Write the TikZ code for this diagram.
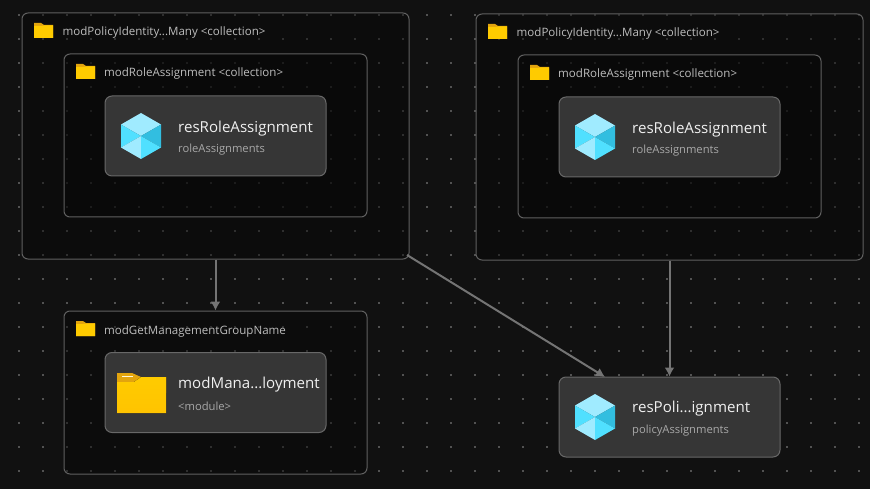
\documentclass[tikz,border=0pt]{standalone}
\usepackage{fontspec}
\setmainfont{Open Sans}
\usetikzlibrary{arrows.meta}
\definecolor{bgc}{HTML}{111111}
\definecolor{innerc}{HTML}{060606}
\definecolor{framec}{HTML}{606060}
\definecolor{cardc}{HTML}{363636}
\definecolor{cardl}{HTML}{686868}
\definecolor{textm}{HTML}{F0F0F0}
\definecolor{texts}{HTML}{A8A8A8}
\definecolor{textf}{HTML}{BDBDBD}
\definecolor{linec}{HTML}{747474}
\definecolor{dotc}{HTML}{525252}
\definecolor{foldc}{HTML}{FFCB00}
\definecolor{foldd}{HTML}{E2A40E}
\definecolor{cubea}{HTML}{A0EBFF}
\definecolor{cubeb}{HTML}{50E0FF}
\definecolor{cubec}{HTML}{32BEE0}
\tikzset{
  x=1pt,y=-1pt,
  framebox/.style={draw=framec,draw opacity=1,line width=1pt,rounded corners=6pt,fill=innerc,fill opacity=0.45,inner sep=0,minimum width=#1},
  cardbox/.style={draw=cardl,line width=1pt,rounded corners=7pt,fill=cardc,inner sep=0,minimum width=221pt,minimum height=80pt},
  ftext/.style={text=textf,font=\fontsize{11.55}{13}\selectfont,anchor=west,inner sep=0},
  mtext/.style={text=textm,font=\fontsize{15.1}{17}\selectfont,anchor=west,inner sep=0},
  stext/.style={text=texts,font=\fontsize{11.2}{13}\selectfont,anchor=west,inner sep=0},
  conn/.style={draw=linec,line width=2pt,-{Latex[length=9pt,width=10pt]}},
}
\newcommand{\cube}[2]{%
  \begin{scope}[shift={(#1,#2)}]
    \fill[cubea] (0,-23)--(20,-11.5)--(0,0)--(-20,-11.5)--cycle;
    \fill[cubeb] (-20,-11.5)--(0,0)--(-20,11.5)--cycle;
    \fill[cubec] (20,-11.5)--(0,0)--(20,11.5)--cycle;
    \fill[cubea] (-20,11.5)--(0,0)--(0,23)--cycle;
    \fill[cubeb] (20,11.5)--(0,0)--(0,23)--cycle;
  \end{scope}}
\newcommand{\smallfolder}[2]{%
  \begin{scope}[shift={(#1,#2)}]
    \fill[foldd] (0,0)--(7,0)--(10,2)--(19,2)--(19,15)--(0,15)--cycle;
    \fill[foldc] (0,3)--(7,3)--(10,2.5)--(19,2.5)--(19,15)--(0,15)--cycle;
  \end{scope}}
\begin{document}
\begin{tikzpicture}
\useasboundingbox (0,0) rectangle (870,489);
\fill[bgc] (0,0) rectangle (870,489);
\foreach \i in {0,...,35} \foreach \j in {0,...,19}
  \fill[dotc] (18.3+24*\i,14.3+24*\j) rectangle ++(1.5,1.5);
% frames
\node[framebox=387pt,minimum height=246pt] (outerA) at (215.5,136) {};
\node[framebox=303pt,minimum height=163pt] (innerA) at (215.5,135.5) {};
\node[framebox=387pt,minimum height=246pt] (outerB) at (669.5,137) {};
\node[framebox=303pt,minimum height=163pt] (innerB) at (669.5,136.5) {};
\node[framebox=303pt,minimum height=163pt] (mgmt) at (215.5,392.5) {};
% cards
\node[cardbox] (cardA) at (215.5,136) {};
\node[cardbox] (cardB) at (669.5,137) {};
\node[cardbox] (cardC) at (215.5,392.5) {};
\node[cardbox] (cardD) at (669.5,417) {};
% frame labels
\smallfolder{34}{23}
\node[ftext] (tA) at (62.5,33) {modPolicyIdentity...Many <collection>};
\smallfolder{76}{64}
\node[ftext] (tB) at (104,74) {modRoleAssignment <collection>};
\smallfolder{488}{24}
\node[ftext] (tC) at (516.5,34) {modPolicyIdentity...Many <collection>};
\smallfolder{530}{65}
\node[ftext] (tD) at (558,75) {modRoleAssignment <collection>};
\smallfolder{76}{321}
\node[ftext] (tE) at (104,331) {modGetManagementGroupName};
% card content
\cube{141}{136}
\node[mtext] (mA) at (178,128.5) {resRoleAssignment};
\node[stext] (sA) at (178,150) {roleAssignments};
\cube{595}{137}
\node[mtext] (mB) at (632,129.5) {resRoleAssignment};
\node[stext] (sB) at (632,151) {roleAssignments};
\cube{595}{417}
\node[mtext] (mD) at (632,409) {resPoli...ignment};
\node[stext] (sD) at (632,431) {policyAssignments};
\begin{scope}[shift={(117,373)}]
  \fill[foldd] (0,0)--(15,0)--(24,4)--(49,4)--(49,20)--(0,20)--cycle;
  \fill[white!85!foldc] (5,2.5) rectangle (16,4.3);
  \fill[top color=foldc,bottom color=foldc!90!orange] (0,9)--(17,9)--(24,4)--(49,4)--(49,40)--(0,40)--cycle;
\end{scope}
\node[mtext] (mC) at (178,385) {modMana...loyment};
\node[stext] (sC) at (178,406) {<module>};
% connectors
\coordinate (diagEnd) at (605,377);
\coordinate (diagStart) at (407,255);
\draw[conn] (outerA.south) -- (mgmt.north);
\draw[conn] (diagStart) -- (diagEnd);
\draw[conn] (outerB.south) -- (cardD.north);
\end{tikzpicture}
\end{document}
